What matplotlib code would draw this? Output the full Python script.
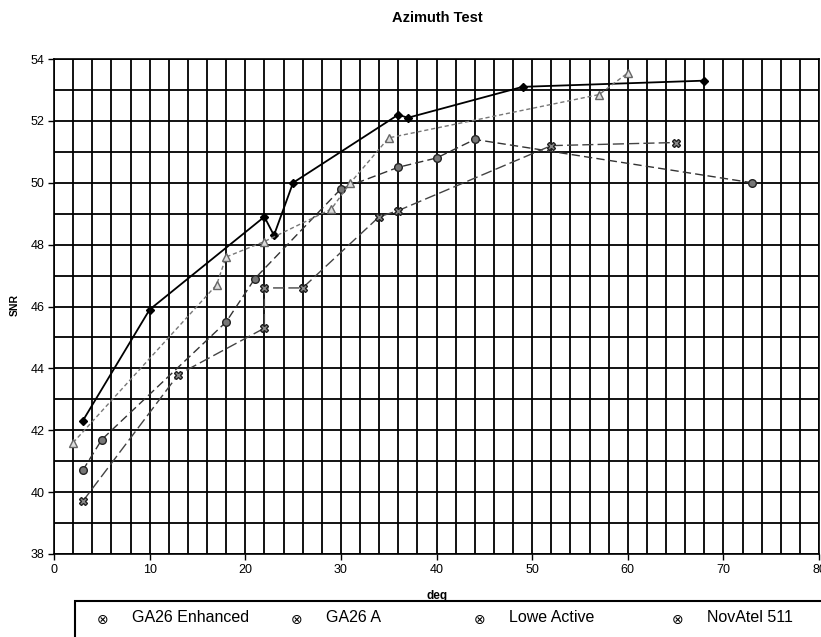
import matplotlib
matplotlib.use("Agg")
import matplotlib.pyplot as plt
from matplotlib.patches import Rectangle

plt.rcParams["font.family"] = ["Liberation Sans", "DejaVu Sans"]

# Values
series_names = ["GA26 Enhanced", "GA26 A", "Lowe Active", "NovAtel 511"]

ga26e_deg = [3, 10, 22, 23, 25, 36, 37, 49, 68]
ga26e_snr = [42.3, 45.9, 48.9, 48.3, 50.0, 52.2, 52.1, 53.1, 53.3]

ga26a_deg = [3, 5, 18, 21, 30, 36, 40, 44, 73]
ga26a_snr = [40.7, 41.7, 45.5, 46.9, 49.8, 50.5, 50.8, 51.4, 50.0]

lowe_deg = [2, 17, 18, 22, 29, 31, 35, 57, 60]
lowe_snr = [41.6, 46.7, 47.6, 48.1, 49.15, 50.0, 51.45, 52.85, 53.55]

novatel_deg = [3, 13, 22, 22, 26, 34, 36, 52, 65]
novatel_snr = [39.7, 43.8, 45.3, 46.6, 46.6, 48.9, 49.1, 51.2, 51.3]

W, H = 821, 637
fig = plt.figure(figsize=(W / 100, H / 100), dpi=100)
ax = fig.add_axes([54 / W, 1 - 554 / H, 765 / W, 495 / H])

# black grid: 2 deg vertical, 1 SNR horizontal
ax.set_xlim(0, 80)
ax.set_ylim(38, 54)
ax.set_xticks(range(0, 81, 10))
ax.set_xticks(range(0, 81, 2), minor=True)
ax.set_yticks(range(38, 55, 2))
ax.set_yticks(range(38, 55, 1), minor=True)
ax.grid(which="both", color="black", linewidth=1.3)
ax.set_axisbelow(True)
ax.tick_params(which="major", direction="out", length=4, width=1, labelsize=9, pad=3)
ax.tick_params(which="minor", length=0)
for sp in ax.spines.values():
    sp.set_color("black")
    sp.set_linewidth(1.2)

ax.plot(ga26e_deg, ga26e_snr, color="black", lw=1.3, marker="D",
        markersize=4.5, markerfacecolor="black", label=series_names[0])
ax.plot(ga26a_deg, ga26a_snr, color="#333333", lw=1.0, dashes=(6, 3),
        marker="o", markersize=5.5, markerfacecolor="#777777",
        markeredgecolor="#222222", label=series_names[1])
ax.plot(lowe_deg, lowe_snr, color="#777777", lw=1.0, dashes=(3, 2),
        marker="^", markersize=5.5, markerfacecolor="#dddddd",
        markeredgecolor="#666666", label=series_names[2])
ax.plot(novatel_deg, novatel_snr, color="#444444", lw=1.0, dashes=(8, 3),
        marker="X", markersize=5.5, markerfacecolor="#888888",
        markeredgecolor="#222222", label=series_names[3])

fig.text(437 / W, 1 - 18 / H, "Azimuth Test", ha="center", va="center",
         fontsize=10.5, fontweight="bold")
fig.text(15 / W, 1 - 305 / H, "SNR", ha="center", va="center", rotation=90,
         fontsize=7.5, fontweight="bold")
fig.text(437 / W, 1 - 596 / H, "deg", ha="center", va="center",
         fontsize=8.5, fontweight="bold")

# legend box, cut off at the right and bottom like the scan
fig.patches.append(Rectangle((75 / W, -0.05), 0.95, 1 - 601 / H + 0.05,
                             transform=fig.transFigure, fill=False,
                             edgecolor="black", linewidth=1.5))
key_x = [103, 297, 480, 678]
for kx, name in zip(key_x, series_names):
    fig.text(kx / W, 1 - 620 / H, "\u2297", ha="center", va="center",
             fontsize=10, family="DejaVu Sans")
    fig.text((kx + 29) / W, 1 - 618 / H, name, ha="left", va="center",
             fontsize=11.5)

fig.savefig("out.png", dpi=100)
